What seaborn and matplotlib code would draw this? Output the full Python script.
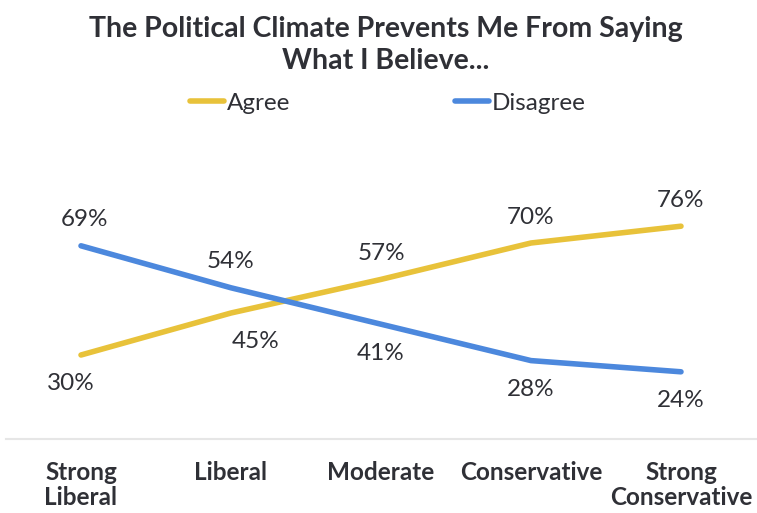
import pandas as pd
import seaborn as sns
import matplotlib.pyplot as plt
from matplotlib.lines import Line2D

sns.set_style("white")
plt.rcParams['font.family'] = ['Lato', 'DejaVu Sans']

# data
categories = ['Strong\nLiberal', 'Liberal', 'Moderate', 'Conservative', 'Strong\nConservative']
agree = [30, 45, 57, 70, 76]
disagree = [69, 54, 41, 28, 24]
series_names = ['Agree', 'Disagree']

text_col = '#2f3036'
colors = {'Agree': '#E8C23A', 'Disagree': '#4C88DD'}

df = pd.DataFrame({
    'group': categories * 2,
    'pct': agree + disagree,
    'series': ['Agree'] * len(categories) + ['Disagree'] * len(categories),
})

W, H = 757, 513
fig = plt.figure(figsize=(W / 100, H / 100), dpi=100)
ax = fig.add_axes([6 / W, (H - 439) / H, 750 / W, 300 / H])

sns.lineplot(data=df, x='group', y='pct', hue='series', palette=colors,
             sort=False, linewidth=4, legend=False, ax=ax,
             solid_capstyle='round', solid_joinstyle='round')

ax.set_xlim(-0.5, 4.5)
ax.set_ylim(0, 300 / 2.8)
ax.set_xlabel('')
ax.set_ylabel('')
ax.set_yticks([])
ax.set_xticks(range(len(categories)))
ax.set_xticklabels(categories, fontsize=17.5, fontweight='bold', color=text_col, linespacing=1.1)
ax.tick_params(axis='x', length=0, pad=16)
for s in ['top', 'left', 'right']:
    ax.spines[s].set_visible(False)
ax.spines['bottom'].set_color('#e6e6e6')
ax.spines['bottom'].set_linewidth(1.5)

# value labels: above or below the line, with small horizontal nudges (pixels)
agree_above = [False, False, True, True, True]
agree_dx = [-10, 25, 0, 0, 0]
disagree_dx = [4, 0, 0, 0, 0]
for i, cat in enumerate(categories):
    for vals, above, dx in [(agree, agree_above[i], agree_dx[i]),
                            (disagree, not agree_above[i], disagree_dx[i])]:
        dy = 26 if above else -29
        ax.annotate(f'{vals[i]}%', (i, vals[i]), xytext=(dx, dy),
                    textcoords='offset pixels', ha='center', va='center',
                    fontsize=17.5, color=text_col)

fig.text(386 / W, 1 - 16 / H, 'The Political Climate Prevents Me From Saying\nWhat I Believe...',
         ha='center', va='top', fontsize=20.5, fontweight='bold', color=text_col, linespacing=1.3)

handles = [Line2D([], [], color=colors[n], linewidth=4, solid_capstyle='round') for n in series_names]
fig.legend(handles, series_names, loc='center', bbox_to_anchor=(388 / W, 1 - 103 / H),
           ncol=2, frameon=False, fontsize=17.5, handlelength=1.4, handletextpad=0.1,
           columnspacing=6.8, labelcolor=text_col)

fig.savefig('out.png', dpi=100)
